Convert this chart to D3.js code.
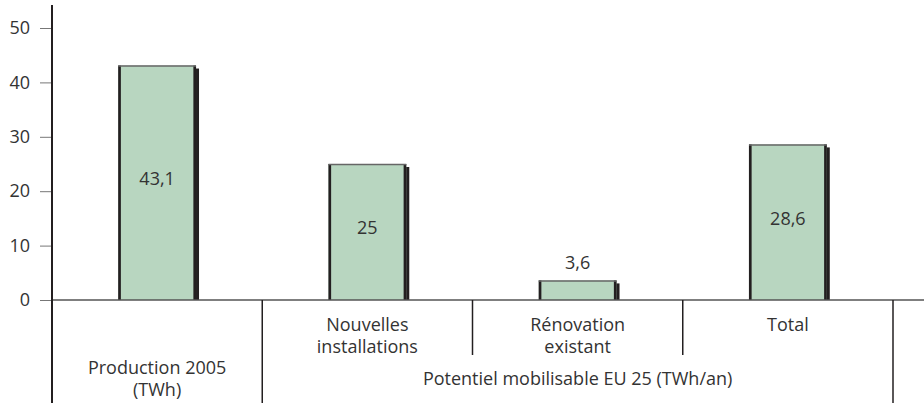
<!DOCTYPE html>
<html>
<head>
  <meta charset="utf-8">
  <script src="https://d3js.org/d3.v7.min.js"></script>
  <style>
    html, body { margin: 0; padding: 0; background: #fff; }
    svg { display: block; }
    text { font-family: "Open Sans", sans-serif; fill: #333; }
  </style>
</head>
<body>
<div id="chart"></div>
<script>
"use strict";
// Data
const CATEGORIES = ["prod2005", "nouvelles", "renovation", "total"];
const CATEGORY_LINES = [[], ["Nouvelles", "installations"], ["Rénovation", "existant"], ["Total"]];
const VALUES = [43.1, 25, 3.6, 28.6];
const Y_TICKS = [0, 10, 20, 30, 40, 50];
const FIRST_LABEL = ["Production 2005", "(TWh)"];
const GROUP_LABEL = "Potentiel mobilisable EU 25 (TWh/an)";

const WIDTH = 924, HEIGHT = 403;
const LEFT = 52, RIGHT = 893, BASE = 300;
const BAR_FILL = "#b8d6c0", DARK = "#231f20";
const FONT_SIZE = "18px";

const fmt = d3.formatLocale({decimal: ",", thousands: " ", grouping: [3], currency: ["", "€"]}).format(",~r");

const svg = d3.select("#chart").append("svg")
  .attr("width", WIDTH)
  .attr("height", HEIGHT);

const x = d3.scaleBand().domain(CATEGORIES).range([LEFT, RIGHT]).padding(0);
const y = d3.scaleLinear().domain([0, 50]).range([BASE, 28]);
const BAR_W = x.bandwidth() * 0.37;

// y axis ticks
const yAxis = svg.append("g")
  .attr("transform", `translate(${LEFT},0)`)
  .call(d3.axisLeft(y).tickValues(Y_TICKS).tickSize(12).tickPadding(10));
yAxis.select(".domain").remove();
yAxis.selectAll(".tick line").attr("stroke", "#777").attr("stroke-width", 1);
yAxis.selectAll(".tick text")
  .style("font-family", "'Open Sans', sans-serif")
  .style("font-size", FONT_SIZE)
  .attr("fill", "#333");

// bars
const bars = svg.append("g").selectAll("g")
  .data(CATEGORIES.map((c, i) => ({cat: c, value: VALUES[i]})))
  .join("g")
  .attr("transform", d => `translate(${x(d.cat) + (x.bandwidth() - BAR_W) / 2},0)`);

// drop shadow
bars.append("rect")
  .attr("x", 3)
  .attr("y", d => y(d.value) + 3)
  .attr("width", BAR_W)
  .attr("height", d => BASE - y(d.value) - 3)
  .attr("fill", DARK);

bars.append("rect")
  .attr("x", 0)
  .attr("y", d => y(d.value))
  .attr("width", BAR_W)
  .attr("height", d => BASE - y(d.value))
  .attr("fill", BAR_FILL);

// side borders and top
bars.append("line")
  .attr("x1", 1.3).attr("x2", 1.3)
  .attr("y1", d => y(d.value)).attr("y2", BASE)
  .attr("stroke", DARK).attr("stroke-width", 2.7);
bars.append("line")
  .attr("x1", BAR_W - 1.3).attr("x2", BAR_W - 1.3)
  .attr("y1", d => y(d.value)).attr("y2", BASE)
  .attr("stroke", DARK).attr("stroke-width", 2.7);
bars.append("line")
  .attr("x1", 0).attr("x2", BAR_W)
  .attr("y1", d => y(d.value) + 0.5).attr("y2", d => y(d.value) + 0.5)
  .attr("stroke", "#666").attr("stroke-width", 1.5);

// value labels: inside for tall bars, above for the small one
bars.append("text")
  .attr("x", BAR_W / 2)
  .attr("y", d => d.value > 10 ? (y(d.value) + BASE) / 2 - 4 : y(d.value) - 18)
  .attr("dy", "0.35em")
  .attr("text-anchor", "middle")
  .style("font-size", FONT_SIZE)
  .text(d => fmt(d.value));

// baseline
svg.append("line")
  .attr("x1", LEFT).attr("x2", WIDTH)
  .attr("y1", BASE).attr("y2", BASE)
  .attr("stroke", "#555").attr("stroke-width", 1.5);

// y axis line
svg.append("line")
  .attr("x1", LEFT).attr("x2", LEFT)
  .attr("y1", 5).attr("y2", HEIGHT)
  .attr("stroke", DARK).attr("stroke-width", 2);

// table separators below the baseline
const seps = [x("nouvelles"), RIGHT];
svg.selectAll(".sepFull").data(seps).join("line")
  .attr("x1", d => d).attr("x2", d => d)
  .attr("y1", BASE).attr("y2", HEIGHT)
  .attr("stroke", DARK).attr("stroke-width", 1.5);
svg.selectAll(".sepShort").data([x("renovation"), x("total")]).join("line")
  .attr("x1", d => d).attr("x2", d => d)
  .attr("y1", BASE).attr("y2", 355)
  .attr("stroke", DARK).attr("stroke-width", 1.5);

// category labels
CATEGORIES.forEach((c, i) => {
  const t = svg.append("text")
    .attr("text-anchor", "middle")
    .style("font-size", FONT_SIZE);
  CATEGORY_LINES[i].forEach((line, j) => {
    t.append("tspan")
      .attr("x", x(c) + x.bandwidth() / 2)
      .attr("y", 331 + j * 22)
      .text(line);
  });
});

const t1 = svg.append("text").attr("text-anchor", "middle").style("font-size", FONT_SIZE);
FIRST_LABEL.forEach((line, j) => {
  t1.append("tspan")
    .attr("x", x("prod2005") + x.bandwidth() / 2)
    .attr("y", 374 + j * 22)
    .text(line);
});

svg.append("text")
  .attr("x", (x("nouvelles") + RIGHT) / 2)
  .attr("y", 385)
  .attr("text-anchor", "middle")
  .style("font-size", FONT_SIZE)
  .text(GROUP_LABEL);
</script>
</body>
</html>
